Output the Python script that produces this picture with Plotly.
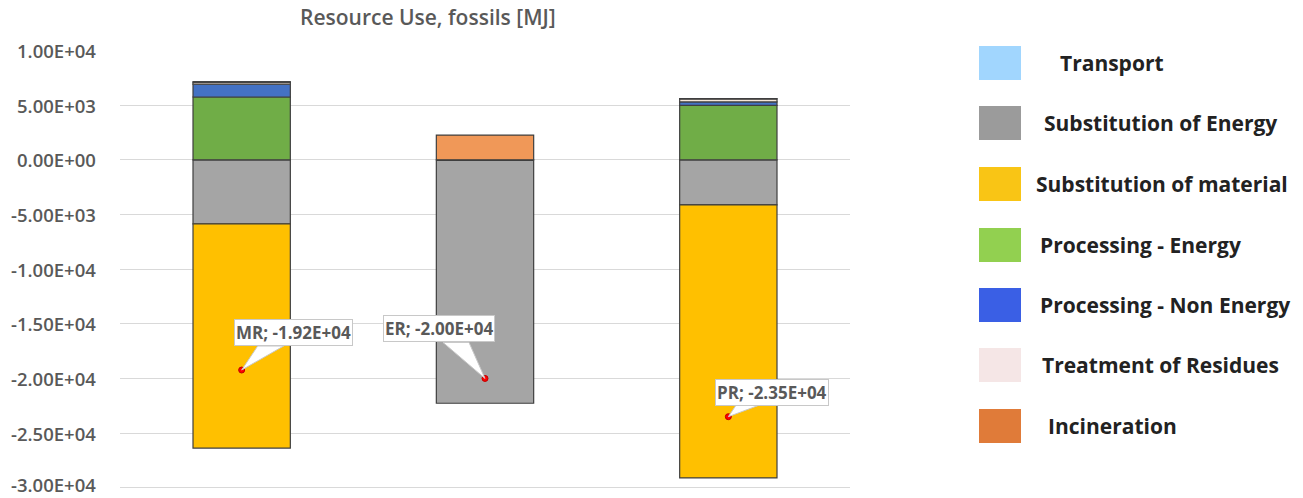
import plotly.graph_objects as go

# Scenarios and contributions per life-cycle stage [MJ]
scenarios = ["MR", "ER", "PR"]
subst_energy = [-5850, -22270, -4120]
subst_material = [-20520, 0, -24980]
proc_energy = [5750, 0, 4980]
proc_non_energy = [1170, 0, 320]
treatment_residues = [200, 0, 280]
transport = [20, 0, 20]
incineration = [0, 2270, 0]

y_ticks = [10000, 5000, 0, -5000, -10000, -15000, -20000, -25000, -30000]

legend_names = ["Transport", "Substitution of Energy", "Substitution of material",
                "Processing - Energy", "Processing - Non Energy",
                "Treatment of Residues", "Incineration"]
legend_colors = ["#A1D6FE", "#9B9B9B", "#F9C515", "#92D050", "#3A5FE5", "#F5E6E6", "#E07B39"]

W, H = 1303, 498
L, R, T, B = 120, 453, 50, 4
PW, PH = W - L - R, H - T - B


def px(xp):
    return (xp - L) / PW


def py(yp):
    return (H - B - yp) / PH


fig = go.Figure()

series = [
    ("Substitution of Energy", subst_energy, "#A5A5A5"),
    ("Substitution of material", subst_material, "#FFC000"),
    ("Processing - Energy", proc_energy, "#70AD47"),
    ("Processing - Non Energy", proc_non_energy, "#4472C4"),
    ("Treatment of Residues", treatment_residues, "#F6E6D8"),
    ("Transport", transport, "#9DC3E6"),
    ("Incineration", incineration, "#F09858"),
]
for name, vals, col in series:
    fig.add_trace(go.Bar(
        x=scenarios, y=vals, name=name, width=0.4,
        marker=dict(color=col, line=dict(color="#3F3F3F", width=1.2)),
        showlegend=False,
    ))

# Net result per scenario
net = [sum(v[i] for _, v, _ in series) for i in range(len(scenarios))]
fig.add_trace(go.Scatter(
    x=scenarios, y=net, mode="markers", showlegend=False,
    marker=dict(color="#FF0000", size=6, line=dict(color="#C00000", width=1)),
))

# Callouts for the net values (box offset and tail, in pixels)
callout = {"MR": (52, -38, [(0, 0), (16, 24), (42, 24)]),
           "ER": (-46, -50, [(0, 0), (-42, 36), (-16, 36)]),
           "PR": (44, -24, [(0, 0), (8, 12), (32, 12)])}
for s, v in zip(scenarios, net):
    ax, ay, tail = callout[s]
    path = "M " + " L ".join(f"{tx},{ty}" for tx, ty in tail) + " Z"
    fig.add_shape(type="path", xref="x", yref="y", xsizemode="pixel", ysizemode="pixel",
                  xanchor=s, yanchor=v, path=path,
                  fillcolor="white", line=dict(color="#C8C8C8", width=1), layer="above")
    fig.add_annotation(x=s, y=v, xref="x", yref="y", ax=ax, ay=ay, showarrow=True,
                       arrowwidth=0.1, arrowcolor="rgba(0,0,0,0)", arrowhead=0,
                       text=f"{s}; {v:.2E}",
                       font=dict(family="Open Sans", size=17, color="#595959", weight="bold"),
                       bgcolor="white", bordercolor="#C8C8C8", borderwidth=1, borderpad=1)

# Y tick labels in scientific notation (E+xx); the lowest one is nudged up to stay on the page
for t in y_ticks:
    fig.add_annotation(x=px(98), y=t, xref="paper", yref="y", showarrow=False,
                       text=f"{t:.2E}", xanchor="right", yanchor="middle",
                       yshift=3 if t == min(y_ticks) else 0,
                       font=dict(family="Open Sans", size=18.5, color="#595959", weight=600))

# Title
fig.add_annotation(x=px(428), y=py(17), xref="paper", yref="paper", showarrow=False,
                   text="Resource Use, fossils [MJ]", xanchor="center", yanchor="middle",
                   font=dict(family="Open Sans", size=21, color="#595959", weight=600))

# Legend panel
legend_y = [63, 123, 184, 245, 305, 365, 426]
legend_text_x = [1058, 1042, 1034, 1038, 1038, 1040, 1046]
for name, col, yc, tx in zip(legend_names, legend_colors, legend_y, legend_text_x):
    fig.add_shape(type="rect", xref="paper", yref="paper",
                  x0=px(979), x1=px(1021), y0=py(yc + 17), y1=py(yc - 17),
                  fillcolor=col, line=dict(width=0))
    fig.add_annotation(x=px(tx), y=py(yc), xref="paper", yref="paper", showarrow=False,
                       text=name, xanchor="left", yanchor="middle",
                       font=dict(family="Open Sans", size=21, color="#222222", weight="bold"))

fig.update_layout(
    width=W, height=H, barmode="relative",
    margin=dict(l=L, r=R, t=T, b=B),
    plot_bgcolor="white", paper_bgcolor="white",
    xaxis=dict(showticklabels=False, showgrid=False, zeroline=False, showline=False),
    yaxis=dict(range=[-30572, 10050], tickvals=y_ticks, showticklabels=False,
               showgrid=True, gridcolor="#D9D9D9", gridwidth=1, zeroline=False,
               showline=False, ticks=""),
)

fig.write_html("out.html")
